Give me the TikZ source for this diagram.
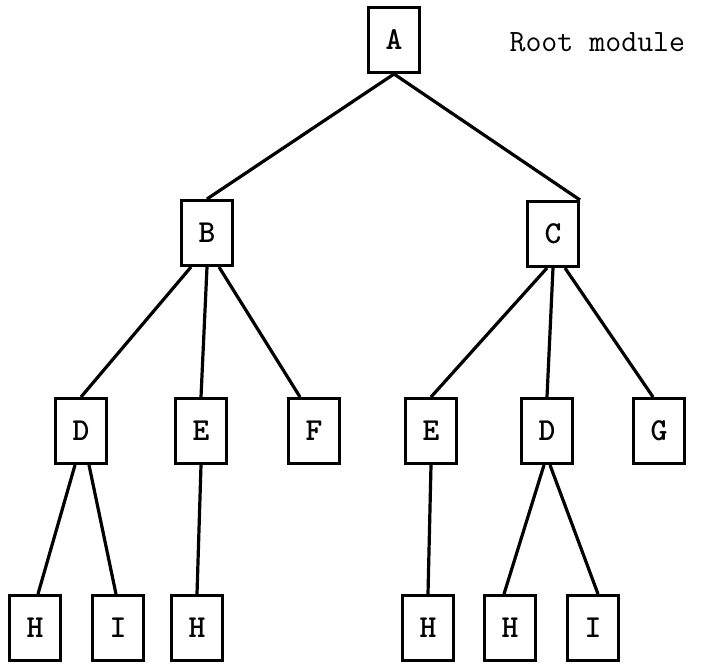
\documentclass[tikz,border=0pt]{standalone}
\usepackage{fontspec}

\begin{document}
\begin{tikzpicture}[x=1pt, y=-1pt,
    mod/.style={draw, line width=3pt, minimum width=51pt, minimum height=65pt, inner sep=0, font=\ttfamily\bfseries\fontsize{32}{34}\selectfont},
    link/.style={line width=3.2pt}]

  \useasboundingbox (0, 0) rectangle (701, 667);

  % 顶层模块
  \node[mod] (a) at (394, 40) {A};
  \node[anchor=west, font=\ttfamily\fontsize{31}{33}\selectfont] (root) at (506, 42) {Root module};

  % 第二层
  \node[mod] (b) at (207, 233) {B};
  \node[mod] (c) at (553, 234) {C};

  % 第三层
  \node[mod] (d1) at (81, 431) {D};
  \node[mod] (e1) at (201, 431) {E};
  \node[mod] (f) at (314, 431) {F};
  \node[mod] (e2) at (431, 431) {E};
  \node[mod] (d2) at (547, 431) {D};
  \node[mod] (g) at (659, 431) {G};

  % 第四层
  \node[mod] (h1) at (35, 628) {H};
  \node[mod] (i1) at (118, 628) {I};
  \node[mod] (h2) at (197, 628) {H};
  \node[mod] (h3) at (428, 628) {H};
  \node[mod] (h4) at (510, 628) {H};
  \node[mod] (i2) at (593, 628) {I};

  % 连线
  \draw[link] (a.south) -- (b.north);
  \draw[link] (a.south) -- (c.north east);
  \draw[link] ([xshift=-16pt]b.south) -- (d1.north);
  \draw[link] (b.south) -- (e1.north);
  \draw[link] ([xshift=12pt]b.south) -- ([xshift=-14pt]f.north);
  \draw[link] ([xshift=-6pt]c.south) -- (e2.north);
  \draw[link] (c.south) -- (d2.north);
  \draw[link] ([xshift=12pt]c.south) -- ([xshift=-6pt]g.north);
  \draw[link] ([xshift=-6pt]d1.south) -- ([xshift=3pt]h1.north);
  \draw[link] ([xshift=8pt]d1.south) -- ([xshift=-2pt]i1.north);
  \draw[link] (e1.south) -- (h2.north);
  \draw[link] (e2.south) -- (h3.north);
  \draw[link] ([xshift=-3pt]d2.south) -- ([xshift=-6pt]h4.north);
  \draw[link] ([xshift=3pt]d2.south) -- ([xshift=5pt]i2.north);

\end{tikzpicture}
\end{document}
